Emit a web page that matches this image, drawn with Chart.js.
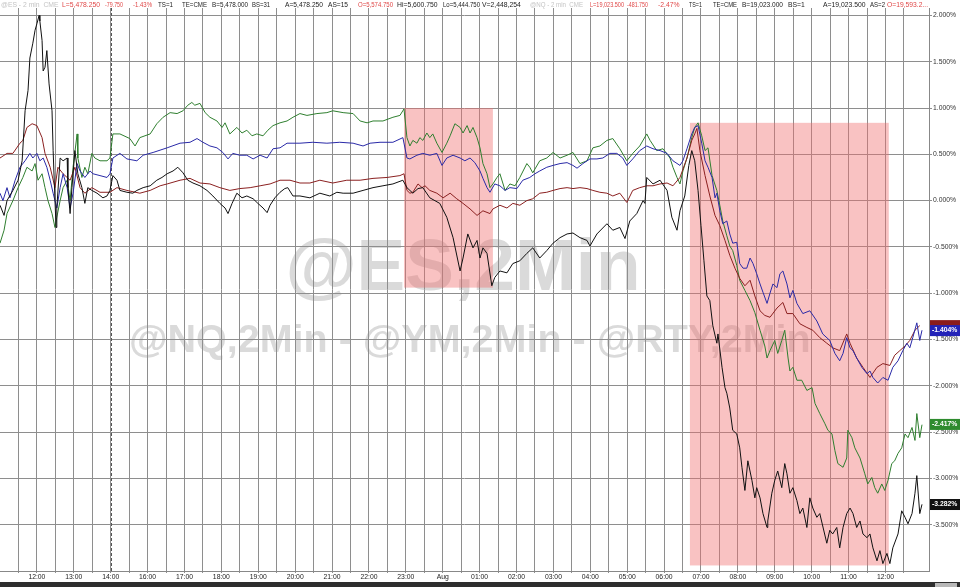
<!DOCTYPE html>
<html>
<head>
<meta charset="utf-8">
<script src="https://cdn.jsdelivr.net/npm/chart.js@4.4.1/dist/chart.umd.min.js"></script>
<style>
html,body{margin:0;padding:0;background:#fff;}
#wrap{width:960px;height:587px;position:relative;}
</style>
</head>
<body>
<div id="wrap"><canvas id="c"></canvas></div>
<script>
// time axis: 1 unit = one hour label slot
const timeLabels = ['12:00','13:00','14:00','16:00','17:00','18:00','19:00','20:00','21:00','22:00','23:00','Aug','01:00','02:00','03:00','04:00','05:00','06:00','07:00','08:00','09:00','10:00','11:00','12:00'];
const yTicks = [-3.5,-3.0,-2.5,-2.0,-1.5,-1.0,-0.5,0,0.5,1.0,1.5,2.0];
const sessionBreak = 3;
// highlight boxes: [tStart, tEnd, vTop, vBottom]
const highlightBoxes = [[10.95,13.36,1.0,-0.94],[18.70,24.09,0.84,-3.94]];
const lastValues = {es:-3.282, nq:-1.404, ym:-1.35, rty:-2.417};

// ES (black) [time, % change]
const esSeries = [[0,-0.05],[0.11,-0.16],[0.19,0],[0.35,0.11],[0.49,0.22],[0.60,0.43],[0.68,0.97],[0.76,1.19],[0.81,1.54],[0.89,1.70],[0.95,1.84],[1.00,1.91],[1.06,2.00],[1.08,1.94],[1.14,1.73],[1.17,1.40],[1.22,1.44],[1.27,1.62],[1.33,1.26],[1.41,0.97],[1.44,0.54],[1.49,0],[1.52,-0.29],[1.54,-0.08],[1.63,0.46],[1.71,0.43],[1.82,0.46],[1.84,0.14],[1.90,-0.14],[1.95,0.14],[2.03,0.54],[2.11,0.29],[2.22,0.14],[2.30,-0.03],[2.38,0.14],[2.49,0.11],[2.63,0.08],[2.79,0.03],[2.90,0.05],[2.98,0.11],[3.06,0.27],[3.17,0.22],[3.25,0.11],[3.44,0.09],[3.60,0.08],[3.71,0.11],[3.88,0.14],[4.07,0.16],[4.25,0.22],[4.39,0.25],[4.53,0.29],[4.69,0.32],[4.82,0.36],[4.96,0.30],[5.09,0.22],[5.23,0.19],[5.42,0.16],[5.61,0.11],[5.77,0.05],[5.96,-0.03],[6.10,-0.08],[6.18,-0.14],[6.29,-0.03],[6.42,0.08],[6.56,0.03],[6.69,0.05],[6.86,0.02],[6.99,-0.03],[7.13,-0.08],[7.24,-0.13],[7.32,-0.05],[7.45,0.03],[7.59,0.09],[7.72,0.13],[7.80,0.14],[7.94,0.05],[8.13,0.05],[8.40,0.03],[8.67,0.08],[8.94,0.05],[9.13,0.09],[9.30,0.08],[9.57,0.08],[9.84,0.11],[10.11,0.14],[10.38,0.16],[10.65,0.18],[10.92,0.22],[11.03,0.14],[11.19,0.08],[11.33,0.13],[11.46,0.14],[11.65,0.03],[11.92,-0.03],[12.11,-0.18],[12.28,-0.40],[12.47,-0.76],[12.55,-0.62],[12.68,-0.36],[12.82,-0.51],[12.93,-0.43],[13.01,-0.62],[13.09,-0.51],[13.20,-0.57],[13.33,-0.92],[13.41,-0.83],[13.55,-0.76],[13.74,-0.78],[13.90,-0.68],[14.09,-0.65],[14.28,-0.57],[14.44,-0.51],[14.63,-0.62],[14.82,-0.54],[14.99,-0.46],[15.18,-0.40],[15.37,-0.36],[15.53,-0.35],[15.72,-0.40],[15.91,-0.43],[15.99,-0.49],[16.18,-0.36],[16.45,-0.25],[16.61,-0.32],[16.80,-0.29],[16.94,-0.41],[17.07,-0.22],[17.26,-0.14],[17.43,0],[17.48,-0.03],[17.53,0.25],[17.70,0.18],[17.89,0.22],[18.08,0.11],[18.21,-0.18],[18.35,-0.32],[18.43,-0.11],[18.56,0.05],[18.67,0.38],[18.75,0.54],[18.83,0.43],[18.92,0.11],[19.00,-0.27],[19.08,-0.65],[19.16,-1.03],[19.24,-1.08],[19.32,-1.35],[19.43,-1.54],[19.46,-1.44],[19.57,-1.80],[19.65,-2.02],[19.70,-2.08],[19.78,-2.24],[19.86,-2.48],[19.97,-2.52],[20.05,-2.67],[20.11,-2.88],[20.19,-3.13],[20.27,-2.81],[20.38,-3.02],[20.46,-3.21],[20.51,-3.10],[20.60,-3.21],[20.68,-3.38],[20.79,-3.53],[20.81,-3.46],[20.92,-3.16],[21.00,-3.02],[21.08,-2.92],[21.19,-3.10],[21.27,-2.84],[21.33,-2.95],[21.41,-3.16],[21.49,-3.10],[21.60,-3.24],[21.68,-3.38],[21.76,-3.32],[21.87,-3.53],[21.95,-3.21],[22.03,-3.32],[22.14,-3.42],[22.22,-3.38],[22.41,-3.70],[22.49,-3.56],[22.57,-3.60],[22.68,-3.53],[22.76,-3.75],[22.85,-3.53],[22.95,-3.38],[23.04,-3.32],[23.12,-3.38],[23.22,-3.53],[23.31,-3.46],[23.39,-3.60],[23.50,-3.64],[23.58,-3.60],[23.66,-3.75],[23.77,-3.89],[23.85,-3.78],[23.93,-3.92],[24.04,-3.81],[24.12,-3.92],[24.20,-3.75],[24.34,-3.60],[24.44,-3.35],[24.53,-3.42],[24.61,-3.49],[24.72,-3.38],[24.80,-3.16],[24.85,-2.97],[24.93,-3.38],[24.99,-3.28]];

// NQ (blue)
const nqSeries = [[0,0.08],[0.08,0],[0.19,0.14],[0.27,0.03],[0.41,0.22],[0.54,0.36],[0.68,0.43],[0.81,0.51],[0.89,0.46],[1.00,0.51],[1.08,0.43],[1.17,0.46],[1.27,0.36],[1.36,0.22],[1.44,0.08],[1.54,-0.08],[1.63,0.14],[1.71,0.29],[1.82,0.14],[1.90,-0.08],[1.98,0.08],[2.09,0.40],[2.17,0.32],[2.30,0.25],[2.44,0.32],[2.52,0.29],[2.71,0.27],[2.90,0.25],[2.98,0.29],[3.06,0.46],[3.25,0.51],[3.44,0.45],[3.71,0.43],[3.88,0.49],[4.15,0.52],[4.53,0.57],[4.88,0.62],[5.15,0.63],[5.34,0.67],[5.50,0.63],[5.69,0.59],[5.88,0.57],[6.04,0.52],[6.18,0.45],[6.31,0.51],[6.50,0.49],[6.69,0.49],[6.86,0.45],[7.05,0.49],[7.24,0.46],[7.40,0.56],[7.59,0.57],[7.78,0.62],[7.94,0.62],[8.13,0.62],[8.48,0.63],[8.86,0.62],[9.21,0.63],[9.57,0.62],[9.84,0.59],[10.03,0.62],[10.30,0.63],[10.65,0.63],[10.92,0.68],[11.03,0.46],[11.11,0.45],[11.30,0.49],[11.46,0.51],[11.65,0.49],[11.84,0.51],[11.98,0.38],[12.11,0.46],[12.28,0.49],[12.47,0.46],[12.60,0.43],[12.74,0.46],[12.87,0.41],[13.01,0.32],[13.09,0.24],[13.20,0.14],[13.28,0.09],[13.41,0.18],[13.55,0.16],[13.69,0.11],[13.82,0.14],[14.01,0.13],[14.17,0.22],[14.36,0.25],[14.50,0.29],[14.63,0.32],[14.82,0.36],[14.99,0.38],[15.18,0.40],[15.37,0.41],[15.53,0.38],[15.64,0.35],[15.80,0.40],[15.99,0.45],[16.18,0.45],[16.34,0.46],[16.53,0.51],[16.72,0.51],[16.88,0.46],[16.99,0.38],[17.15,0.45],[17.34,0.54],[17.53,0.59],[17.70,0.56],[17.89,0.54],[18.08,0.51],[18.24,0.43],[18.43,0.38],[18.51,0.43],[18.62,0.56],[18.75,0.72],[18.83,0.79],[18.92,0.81],[19.02,0.62],[19.11,0.43],[19.19,0.36],[19.30,0.25],[19.38,0.03],[19.43,0.08],[19.51,-0.11],[19.59,-0.25],[19.70,-0.22],[19.78,-0.36],[19.86,-0.46],[19.97,-0.45],[20.05,-0.68],[20.14,-0.73],[20.24,-0.73],[20.33,-0.62],[20.41,-0.68],[20.51,-0.79],[20.60,-0.90],[20.68,-0.99],[20.79,-1.11],[20.87,-1.00],[20.95,-0.90],[21.06,-0.94],[21.14,-0.79],[21.22,-0.76],[21.33,-0.90],[21.41,-1.05],[21.49,-0.97],[21.60,-1.11],[21.76,-1.22],[21.95,-1.19],[22.14,-1.30],[22.30,-1.44],[22.49,-1.51],[22.63,-1.65],[22.76,-1.73],[22.85,-1.65],[22.95,-1.48],[23.04,-1.59],[23.12,-1.62],[23.22,-1.70],[23.36,-1.80],[23.50,-1.87],[23.58,-1.84],[23.66,-1.91],[23.79,-1.97],[23.93,-1.91],[24.07,-1.94],[24.20,-1.80],[24.34,-1.73],[24.47,-1.62],[24.58,-1.54],[24.66,-1.59],[24.74,-1.48],[24.85,-1.32],[24.93,-1.51],[24.99,-1.40]];

// YM (dark red)
const ymSeries = [[0,0.46],[0.19,0.51],[0.35,0.51],[0.54,0.62],[0.62,0.65],[0.73,0.79],[0.87,0.83],[1.00,0.81],[1.14,0.68],[1.22,0.51],[1.36,0.36],[1.49,0.14],[1.57,0.36],[1.71,0.29],[1.90,0.22],[2.03,0.36],[2.17,0.14],[2.30,0.08],[2.49,0.14],[2.71,0.09],[2.98,0.09],[3.17,0.14],[3.44,0.11],[3.79,0.08],[4.07,0.11],[4.34,0.16],[4.53,0.18],[4.88,0.22],[5.15,0.24],[5.42,0.19],[5.69,0.18],[5.96,0.14],[6.23,0.11],[6.50,0.13],[6.78,0.14],[7.05,0.16],[7.32,0.18],[7.59,0.22],[7.86,0.22],[8.13,0.19],[8.40,0.19],[8.67,0.22],[9.02,0.19],[9.40,0.22],[9.76,0.22],[10.11,0.24],[10.49,0.25],[10.84,0.27],[10.95,0.29],[11.03,0.11],[11.11,0.08],[11.19,0.09],[11.33,0.18],[11.44,0.14],[11.52,0.16],[11.65,0.11],[11.84,0.08],[12.01,0.03],[12.20,0.08],[12.38,0.02],[12.55,-0.03],[12.74,-0.09],[12.93,-0.16],[13.09,-0.11],[13.28,-0.14],[13.36,-0.09],[13.55,-0.05],[13.74,-0.08],[13.90,-0.03],[14.09,-0.05],[14.28,0],[14.44,0.02],[14.63,0.08],[14.82,0.09],[14.99,0.11],[15.18,0.13],[15.37,0.14],[15.53,0.13],[15.72,0.14],[15.91,0.13],[16.07,0.11],[16.26,0.09],[16.45,0.08],[16.61,0.05],[16.80,0.08],[16.99,-0.02],[17.15,0.11],[17.34,0.14],[17.53,0.16],[17.70,0.16],[17.89,0.18],[18.08,0.19],[18.24,0.16],[18.43,0.25],[18.62,0.46],[18.75,0.65],[18.83,0.72],[18.89,0.78],[18.97,0.54],[19.11,0.27],[19.24,0.05],[19.38,-0.16],[19.51,-0.27],[19.65,-0.43],[19.78,-0.59],[19.92,-0.73],[20.05,-0.84],[20.19,-0.92],[20.33,-0.86],[20.46,-1.03],[20.60,-1.19],[20.73,-1.24],[20.87,-1.26],[21.06,-1.16],[21.22,-1.10],[21.33,-1.22],[21.49,-1.22],[21.68,-1.33],[21.87,-1.37],[22.03,-1.40],[22.22,-1.48],[22.41,-1.54],[22.57,-1.59],[22.76,-1.62],[22.95,-1.44],[23.04,-1.54],[23.22,-1.70],[23.39,-1.80],[23.58,-1.91],[23.77,-1.80],[23.93,-1.76],[24.12,-1.78],[24.25,-1.67],[24.39,-1.62],[24.53,-1.57],[24.66,-1.51],[24.80,-1.40],[24.93,-1.35]];

// RTY (green)
const rtySeries = [[0,-0.46],[0.11,-0.32],[0.19,-0.14],[0.35,0],[0.49,0.14],[0.62,0.25],[0.73,0.36],[0.87,0.32],[0.95,0.40],[1.03,0.22],[1.14,0.29],[1.22,0.14],[1.30,0],[1.41,-0.14],[1.49,-0.29],[1.54,-0.18],[1.63,0],[1.71,0.14],[1.82,0.22],[1.90,0],[1.98,0.36],[2.09,0.72],[2.11,0.46],[2.22,0.25],[2.30,0.36],[2.38,0.29],[2.49,0.51],[2.57,0.46],[2.71,0.43],[2.90,0.43],[2.98,0.46],[3.06,0.72],[3.25,0.72],[3.52,0.67],[3.66,0.59],[3.79,0.68],[4.07,0.72],[4.25,0.83],[4.42,0.90],[4.61,0.95],[4.80,0.94],[4.96,0.97],[5.09,1.03],[5.20,1.06],[5.28,1.03],[5.42,1.05],[5.56,0.95],[5.69,0.90],[5.88,0.86],[6.02,0.79],[6.10,0.84],[6.23,0.72],[6.42,0.79],[6.56,0.73],[6.69,0.76],[6.83,0.70],[6.96,0.72],[7.13,0.70],[7.26,0.76],[7.40,0.81],[7.59,0.84],[7.78,0.86],[7.94,0.90],[8.13,0.94],[8.32,0.92],[8.59,0.94],[8.86,0.95],[9.02,0.97],[9.30,0.95],[9.57,0.94],[9.76,0.86],[9.95,0.84],[10.11,0.86],[10.38,0.86],[10.65,0.90],[10.84,0.92],[10.95,0.99],[11.03,0.68],[11.11,0.59],[11.19,0.65],[11.30,0.62],[11.38,0.68],[11.46,0.65],[11.57,0.73],[11.65,0.68],[11.73,0.72],[11.84,0.62],[11.98,0.52],[12.11,0.62],[12.20,0.70],[12.33,0.83],[12.47,0.79],[12.55,0.73],[12.66,0.81],[12.74,0.73],[12.82,0.79],[12.93,0.68],[13.01,0.57],[13.09,0.40],[13.20,0.29],[13.28,0.14],[13.36,0.18],[13.47,0.25],[13.55,0.29],[13.69,0.11],[13.82,0.18],[13.96,0.16],[14.09,0.25],[14.28,0.40],[14.36,0.36],[14.44,0.30],[14.63,0.43],[14.82,0.46],[14.99,0.52],[15.18,0.46],[15.37,0.49],[15.53,0.52],[15.72,0.40],[15.91,0.43],[16.07,0.57],[16.26,0.59],[16.45,0.65],[16.61,0.67],[16.80,0.56],[16.99,0.43],[17.15,0.51],[17.34,0.59],[17.53,0.72],[17.62,0.65],[17.80,0.54],[17.97,0.56],[18.16,0.46],[18.24,0.36],[18.35,0.25],[18.43,0.18],[18.51,0.32],[18.62,0.46],[18.75,0.68],[18.83,0.79],[18.92,0.84],[19.02,0.70],[19.11,0.54],[19.19,0.57],[19.30,0.27],[19.43,0.11],[19.51,-0.05],[19.59,-0.22],[19.70,-0.38],[19.78,-0.49],[19.86,-0.54],[19.97,-0.70],[20.05,-0.86],[20.19,-0.97],[20.33,-1.08],[20.46,-1.21],[20.60,-1.40],[20.73,-1.57],[20.79,-1.70],[20.87,-1.62],[21.00,-1.51],[21.08,-1.65],[21.19,-1.51],[21.27,-1.40],[21.36,-1.70],[21.41,-1.84],[21.49,-1.80],[21.60,-1.94],[21.73,-1.94],[21.87,-2.05],[22.01,-2.02],[22.09,-2.19],[22.22,-2.30],[22.36,-2.41],[22.44,-2.48],[22.55,-2.52],[22.63,-2.70],[22.71,-2.84],[22.85,-2.88],[22.95,-2.78],[22.98,-2.48],[23.09,-2.56],[23.17,-2.67],[23.31,-2.78],[23.44,-2.95],[23.52,-3.06],[23.63,-2.99],[23.71,-3.10],[23.79,-3.16],[23.90,-3.06],[23.98,-3.13],[24.07,-3.02],[24.17,-2.84],[24.25,-2.81],[24.34,-2.73],[24.44,-2.67],[24.53,-2.52],[24.61,-2.56],[24.72,-2.45],[24.80,-2.59],[24.85,-2.30],[24.93,-2.56],[24.99,-2.42]];

const toXY = arr => arr.map(p => ({x:p[0], y:p[1]}));
const FONT = '"Liberation Sans", Arial, sans-serif';

// header text: [x, text, color, maxWidth]
const header = [
 [1,'@ES - 2 min  CME','#c4c4c4',58],[62,'L=5,478.250','#e04848',38],[105,'-79.750','#e04848',18],[133,'-1.43%','#e04848',19],
 [158,'TS=1','#222',15],[182,'TE=CME','#222',25],[212,'B=5,478.000','#222',36],[252,'BS=31','#222',18],[285,'A=5,478.250','#222',38],
 [328,'AS=15','#222',20],[358,'O=5,574.750','#e04848',35],[397,'Hi=5,600.750','#222',41],[443,'Lo=5,444.750','#222',37],
 [482,'V=2,448,254','#222',40],[530,'@NQ - 2 min  CME','#c4c4c4',53],[590,'L=19,023.500','#e04848',34],[627,'-481.750','#e04848',21],
 [658,'-2.47%','#e04848',22],[689,'TS=1','#222',13],[713,'TE=CME','#222',24],[742,'B=19,023.000','#222',41],[788,'BS=1','#222',17],
 [823,'A=19,023.500','#222',44],[870,'AS=2','#222',15],[887,'O=19,593.2...','#e04848',41]
];

const decor = {
  id:'decor',
  beforeDraw(chart){
    const ctx = chart.ctx;
    ctx.save();
    ctx.fillStyle = '#fff';
    ctx.fillRect(0,0,chart.width,chart.height);
    ctx.fillStyle = '#dadada';
    ctx.textBaseline = 'alphabetic';
    ctx.textAlign = 'center';
    ctx.font = 'bold 73px ' + FONT;
    ctx.fillText('@ES,2Min', 463, 290);
    ctx.textAlign = 'left';
    ctx.font = 'bold 39.5px ' + FONT;
    ctx.fillText('@NQ,2Min - @YM,2Min - @RTY,2Min', 129, 352);
    ctx.restore();
  },
  beforeDatasetsDraw(chart){
    const {ctx, chartArea:a, scales:{x,y}} = chart;
    ctx.save();
    ctx.fillStyle = 'rgba(240,110,110,0.42)';
    highlightBoxes.forEach(b => {
      const x0 = x.getPixelForValue(b[0]), x1 = x.getPixelForValue(b[1]);
      const y0 = y.getPixelForValue(b[2]), y1 = y.getPixelForValue(b[3]);
      ctx.fillRect(x0, y0, x1-x0, y1-y0);
    });
    const xs = Math.round(x.getPixelForValue(sessionBreak)) + 0.5;
    ctx.strokeStyle = '#555';
    ctx.lineWidth = 1;
    ctx.setLineDash([3,2]);
    ctx.beginPath(); ctx.moveTo(xs, a.top); ctx.lineTo(xs, a.bottom); ctx.stroke();
    ctx.restore();
  },
  afterDraw(chart){
    const {ctx, chartArea:a, scales:{y}} = chart;
    ctx.save();
    ctx.font = '6.8px ' + FONT;
    ctx.textBaseline = 'alphabetic';
    ctx.textAlign = 'left';
    header.forEach(h => { ctx.fillStyle = h[2]; ctx.fillText(h[1], h[0], 7, h[3]); });
    const boxes = [[lastValues.ym,'#8a1c1c',''],[lastValues.nq,'#2323b8','-1.404%'],[lastValues.rty,'#2e8b2e','-2.417%'],[lastValues.es,'#111','-3.282%']];
    ctx.font = 'bold 6.8px ' + FONT;
    ctx.textBaseline = 'middle';
    boxes.forEach(b => {
      const yy = y.getPixelForValue(b[0]);
      ctx.fillStyle = b[1];
      ctx.fillRect(a.right+1, yy-5.5, 30, 11);
      if (b[2]) { ctx.fillStyle = '#fff'; ctx.fillText(b[2], a.right+3, yy); }
    });
    ctx.fillStyle = '#2e2e2e';
    ctx.fillRect(0, 582, chart.width, 5);
    ctx.fillStyle = '#b8b8b8';
    ctx.fillRect(935, 583, 22, 4);
    ctx.restore();
  }
};

new Chart(document.getElementById('c'), {
  type:'line',
  data:{
    datasets:[
      {label:'@ES', data:toXY(esSeries), borderColor:'#111111'},
      {label:'@NQ', data:toXY(nqSeries), borderColor:'#2a2aa8'},
      {label:'@YM', data:toXY(ymSeries), borderColor:'#8b2020'},
      {label:'@RTY', data:toXY(rtySeries), borderColor:'#2f7f2f'}
    ].map(d => Object.assign(d, {borderWidth:1, pointRadius:0, tension:0, fill:false}))
  },
  options:{
    responsive:true, maintainAspectRatio:false, animation:false,
    layout:{padding:{top:8, left:0, right:0, bottom:0}},
    plugins:{legend:{display:false}, tooltip:{enabled:false}},
    scales:{
      x:{
        type:'linear', min:0, max:25.18,
        afterBuildTicks: s => { const t=[]; for (let v=0.5; v<25; v+=0.5) t.push({value:v}); s.ticks=t; },
        afterFit: s => { s.height = 16; },
        grid:{color:'#8e8e8e', lineWidth:1, tickLength:2},
        border:{display:true, color:'#888'},
        ticks:{autoSkip:false, maxRotation:0, padding:0, color:'#222', font:{family:FONT, size:6.8},
          callback: v => Number.isInteger(v) ? (timeLabels[v-1] || '') : ''}
      },
      y:{
        type:'linear', position:'right', min:-4.0, max:2.08,
        afterBuildTicks: s => { s.ticks = yTicks.map(v => ({value:v})); },
        afterFit: s => { s.width = 31; },
        grid:{color:'#8e8e8e', lineWidth:1, tickLength:3},
        border:{display:true, color:'#888'},
        ticks:{padding:1, color:'#333', font:{family:FONT, size:6.8},
          callback: v => v.toFixed(3) + '%'}
      }
    }
  },
  plugins:[decor]
});
</script>
</body>
</html>
